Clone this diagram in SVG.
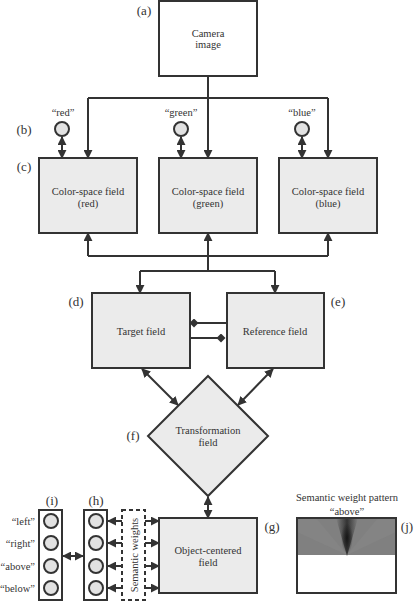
<svg xmlns="http://www.w3.org/2000/svg" width="416" height="602" viewBox="0 0 416 602">
<style>
text{font-family:'Liberation Serif','Times New Roman',serif;fill:#333333;}
.t{font-size:10.5px;text-anchor:middle;}
.lab{font-size:13px;text-anchor:middle;}
.box{fill:#ebebeb;stroke:#333;stroke-width:2;}
.wbox{fill:#fff;stroke:#333;stroke-width:2;}
.c{fill:#e2e2e2;stroke:#333;stroke-width:2;}
.ln{fill:none;stroke:#333;stroke-width:2;}
.a{marker-end:url(#ah);}
.ab{marker-end:url(#ah);marker-start:url(#ah);}
</style>
<defs>
<marker id="ah" viewBox="0 0 10 10" refX="9" refY="5" markerWidth="9" markerHeight="9" markerUnits="userSpaceOnUse" orient="auto-start-reverse">
<path d="M0,0 L10,5 L0,10 z" fill="#333"/>
</marker>
<marker id="dm" viewBox="0 0 10 10" refX="5" refY="5" markerWidth="9" markerHeight="9" markerUnits="userSpaceOnUse">
<path d="M0,5 L5,0 L10,5 L5,10 z" fill="#333"/>
</marker>
<linearGradient id="cone" x1="0" y1="0" x2="1" y2="0">
<stop offset="0" stop-color="#808080"/>
<stop offset="0.5" stop-color="#333"/>
<stop offset="1" stop-color="#808080"/>
</linearGradient>
<radialGradient id="blob" cx="0.5" cy="0.5" r="0.5">
<stop offset="0" stop-color="#111" stop-opacity="0.85"/>
<stop offset="1" stop-color="#111" stop-opacity="0"/>
</radialGradient>
</defs>

<g font-family="Liberation Serif, Times New Roman, serif" fill="#333">
<g id="labels" font-size="13" text-anchor="middle">
<text x="144" y="15">(a)</text>
<text x="24" y="134">(b)</text>
<text x="24" y="171">(c)</text>
<text x="76" y="306">(d)</text>
<text x="338" y="306">(e)</text>
<text x="133" y="440">(f)</text>
<text x="272" y="531">(g)</text>
<text x="96" y="505">(h)</text>
<text x="52" y="505">(i)</text>
<text x="407" y="531">(j)</text>
</g>

<g id="connectors">
<path class="ln" d="M208,76 V98 M88,98 H328"/>
<line class="ln a" x1="88" y1="98" x2="88" y2="158"/>
<line class="ln a" x1="208" y1="98" x2="208" y2="158"/>
<line class="ln a" x1="328" y1="98" x2="328" y2="158"/>
<line class="ln ab" x1="62" y1="137" x2="62" y2="158"/>
<line class="ln ab" x1="181" y1="137" x2="181" y2="158"/>
<line class="ln ab" x1="302" y1="137" x2="302" y2="158"/>
<path class="ln" d="M88,256 H328 M208,256 V271 M140,271 H275"/>
<line class="ln a" x1="88" y1="256" x2="88" y2="233"/>
<line class="ln a" x1="208" y1="256" x2="208" y2="233"/>
<line class="ln a" x1="328" y1="256" x2="328" y2="233"/>
<line class="ln a" x1="140" y1="271" x2="140" y2="293"/>
<line class="ln a" x1="275" y1="271" x2="275" y2="293"/>
<line class="ln" x1="194" y1="323" x2="227" y2="323" marker-start="url(#dm)"/>
<line class="ln" x1="190" y1="338" x2="221" y2="338" marker-end="url(#dm)"/>
<line class="ln ab" x1="142" y1="369" x2="178" y2="405"/>
<line class="ln ab" x1="273" y1="369" x2="238" y2="405"/>
<line class="ln ab" x1="208" y1="497" x2="208" y2="518"/>
<line class="ln ab" x1="63" y1="556" x2="83" y2="556"/>
<line class="ln a" x1="122" y1="521" x2="108" y2="521"/>
<line class="ln a" x1="122" y1="543" x2="108" y2="543"/>
<line class="ln a" x1="122" y1="566" x2="108" y2="566"/>
<line class="ln a" x1="122" y1="588" x2="108" y2="588"/>
<line class="ln a" x1="145" y1="521" x2="159" y2="521"/>
<line class="ln a" x1="145" y1="543" x2="159" y2="543"/>
<line class="ln a" x1="145" y1="566" x2="159" y2="566"/>
<line class="ln a" x1="145" y1="588" x2="159" y2="588"/>
</g>

<g id="camera">
<rect class="wbox" x="159" y="1" width="98" height="75"/>
<text class="t" x="208" y="37">Camera</text>
<text class="t" x="208" y="48">image</text>
</g>

<g id="word-red">
<text class="t" x="63" y="116">“red”</text>
<circle class="c" cx="62" cy="129" r="7"/>
</g>
<g id="word-green">
<text class="t" x="181" y="116">“green”</text>
<circle class="c" cx="181" cy="129" r="7"/>
</g>
<g id="word-blue">
<text class="t" x="302" y="116">“blue”</text>
<circle class="c" cx="302" cy="129" r="7"/>
</g>

<g id="cs-red">
<rect class="box" x="39" y="158" width="98" height="75"/>
<text class="t" x="88" y="195">Color-space field</text>
<text class="t" x="88" y="207">(red)</text>
</g>
<g id="cs-green">
<rect class="box" x="159" y="158" width="98" height="75"/>
<text class="t" x="208" y="195">Color-space field</text>
<text class="t" x="208" y="207">(green)</text>
</g>
<g id="cs-blue">
<rect class="box" x="279" y="158" width="98" height="75"/>
<text class="t" x="328" y="195">Color-space field</text>
<text class="t" x="328" y="207">(blue)</text>
</g>

<g id="target">
<rect class="box" x="92" y="293" width="98" height="75"/>
<text class="t" x="141" y="335">Target field</text>
</g>
<g id="reference">
<rect class="box" x="227" y="293" width="97" height="75"/>
<text class="t" x="275" y="335">Reference field</text>
</g>

<g id="transformation">
<polygon class="box" points="208,376 268,436 208,496 148,436"/>
<text class="t" x="208" y="434">Transformation</text>
<text class="t" x="208" y="446">field</text>
</g>

<g id="object">
<rect class="box" x="159" y="518" width="98" height="75"/>
<text class="t" x="208" y="554">Object-centered</text>
<text class="t" x="208" y="566">field</text>
</g>

<g id="semantic-weights">
<rect x="122" y="510" width="23" height="90" fill="none" stroke="#333" stroke-width="2" stroke-dasharray="4,3"/>
<text class="t" transform="translate(137.5,555) rotate(-90)">Semantic weights</text>
</g>

<g id="h-column">
<rect class="wbox" x="84" y="510" width="23" height="90"/>
<circle class="c" cx="96" cy="521" r="7"/>
<circle class="c" cx="96" cy="543" r="7"/>
<circle class="c" cx="96" cy="566" r="7"/>
<circle class="c" cx="96" cy="588" r="7"/>
</g>

<g id="i-column">
<rect class="wbox" x="39" y="510" width="23" height="90"/>
<circle class="c" cx="51" cy="521" r="7"/>
<circle class="c" cx="51" cy="543" r="7"/>
<circle class="c" cx="51" cy="566" r="7"/>
<circle class="c" cx="51" cy="588" r="7"/>
<g font-size="10.5" text-anchor="end">
<text x="35" y="524.5">“left”</text>
<text x="35" y="546.5">“right”</text>
<text x="35" y="569.5">“above”</text>
<text x="35" y="591.5">“below”</text>
</g>
</g>

<g id="pattern">
<text class="t" x="347" y="501">Semantic weight pattern</text>
<text class="t" x="347" y="515">“above”</text>
<rect x="297" y="518" width="99" height="75" fill="#fff"/>
<rect x="297" y="518" width="99" height="37" fill="#808080"/>
<polygon points="347,555 297,532 297,518 316,518" fill="#8a8a8a" opacity="0.4"/>
<polygon points="347,555 396,532 396,518 378,518" fill="#8a8a8a" opacity="0.4"/>
<polygon points="347,556 336,518 358,518" fill="url(#cone)"/>
<ellipse cx="347" cy="538" rx="6" ry="15" fill="url(#blob)"/>
<rect x="297" y="518" width="99" height="75" fill="none" stroke="#333" stroke-width="2"/>
</g>
</g>
</svg>
